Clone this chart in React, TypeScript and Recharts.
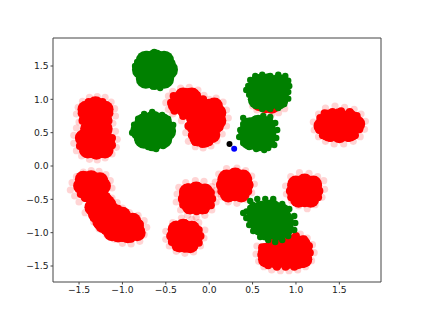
import { ScatterChart, Scatter, XAxis, YAxis, ReferenceLine } from 'recharts';

const xTicks = [-1.5, -1.0, -0.5, 0, 0.5, 1.0, 1.5];
const yTicks = [-1.5, -1.0, -0.5, 0, 0.5, 1.0, 1.5];
const xRange = [-1.8, 1.98];
const yRange = [-1.74, 1.92];

// dense middle of the red clusters
const redCore = [
  [-1.31,.82],[-1.2,.85],[-1.42,.85],[-1.31,.92],[-1.22,.72],[-1.4,.72],[-1.31,.68],
  [-1.3,.56],[-1.21,.56],[-1.39,.56],
  [-1.3,.33],[-1.18,.34],[-1.42,.34],[-1.3,.43],[-1.3,.22],[-1.4,.24],[-1.2,.24],[-1.45,.42],
  [-1.35,-.3],[-1.47,-.3],[-1.23,-.3],[-1.36,-.19],[-1.26,-.22],[-1.45,-.2],[-1.4,-.42],[-1.28,-.42],
  [-1.3,-.52],[-1.22,-.5],[-1.34,-.62],[-1.18,-.56],
  [-1.24,-.62],[-1.3,-.72],[-1.2,-.72],[-1.13,-.66],[-1.25,-.83],[-1.14,-.82],[-1.05,-.77],[-1.15,-.93],
  [-1.22,-.88],[-1.12,-1.0],[-1.0,-.74],[-.88,-.83],
  [-1.04,-.9],[-.95,-.84],[-1.05,-1.02],[-.93,-.96],[-.85,-.9],[-.94,-1.03],[-.83,-1.0],
  [-.28,-1.05],[-.39,-1.05],[-.17,-1.05],[-.3,-.92],[-.2,-.95],[-.38,-.95],[-.34,-1.17],[-.22,-1.18],
  [-.145,-.49],[-.26,-.49],[-.03,-.49],[-.15,-.36],[-.05,-.39],[-.25,-.39],[-.22,-.6],[-.08,-.6],
  [.295,-.285],[.18,-.285],[.41,-.285],[.3,-.15],[.2,-.18],[.39,-.18],[.22,-.42],[.37,-.42],
  [1.1,-.375],[.99,-.375],[1.21,-.375],[1.1,-.24],[1.0,-.27],[1.2,-.27],[1.03,-.5],[1.17,-.5],
  [.66,-1.28],[.66,-1.4],[.78,-1.28],[.78,-1.42],[.9,-1.28],[.9,-1.42],[1.02,-1.28],[1.02,-1.42],
  [1.09,-1.28],[1.09,-1.4],[.97,-1.15],[1.07,-1.17],[.75,-1.17],[.85,-1.15],
  [1.3,.6],[1.42,.6],[1.54,.6],[1.66,.6],[1.38,.72],[1.5,.74],[1.62,.72],[1.38,.49],[1.5,.47],[1.62,.49],[1.7,.63],
  [.65,.92],[.72,.91],[.58,.95],
  [-.29,.95],[-.38,.92],[-.3,1.05],[-.2,1.05],[-.17,.95],[-.28,.85],[-.2,.8],
  [-.06,.66],[-.17,.6],[-.17,.72],[.04,.72],[.06,.6],[-.05,.8],[.1,.8],[.1,.68],[.02,.48],[-.08,.5],
  [-.05,.4],[-.13,.42],[.03,.47],[.06,.9],[0,.88],
];

// solid points just inside the outline of the red clusters
const redRim = [
  [-1.47,.79],[-1.45,.88],[-1.39,.96],[-1.31,.97],[-1.23,.96],[-1.17,.88],[-1.15,.79],[-1.16,.68],[-1.46,.68],
  [-1.49,.42],[-1.49,.3],[-1.45,.22],[-1.38,.18],[-1.3,.17],[-1.22,.18],[-1.16,.22],[-1.12,.31],[-1.12,.42],[-1.17,.5],
  [-1.51,-.31],[-1.49,-.22],[-1.43,-.17],[-1.35,-.14],[-1.27,-.17],[-1.21,-.22],[-1.19,-.31],[-1.21,-.42],[-1.48,-.42],[-1.43,-.48],
  [-1.32,-.62],[-1.33,-.78],[-1.28,-.88],[-1.2,-.97],[-1.1,-1.03],[-1.0,-1.08],[-.9,-1.09],[-.82,-1.05],[-.79,-.96],[-.8,-.87],[-.88,-.78],[-.97,-.72],[-1.05,-.64],[-1.12,-.56],
  [-.45,-1.05],[-.43,-.96],[-.38,-.88],[-.28,-.86],[-.18,-.89],[-.12,-.96],[-.1,-1.05],[-.12,-1.15],[-.18,-1.22],[-.28,-1.24],[-.38,-1.22],[-.43,-1.14],
  [-.315,-.49],[-.3,-.4],[-.24,-.32],[-.145,-.3],[-.05,-.33],[.02,-.4],[.035,-.49],[.02,-.59],[-.05,-.66],[-.145,-.68],[-.24,-.66],[-.3,-.58],
  [.125,-.285],[.14,-.2],[.2,-.12],[.295,-.1],[.39,-.12],[.45,-.2],[.465,-.285],[.45,-.38],[.39,-.45],[.295,-.47],[.2,-.45],[.14,-.38],
  [.93,-.375],[.945,-.29],[1.0,-.21],[1.1,-.19],[1.2,-.21],[1.255,-.29],[1.27,-.375],[1.255,-.47],[1.2,-.54],[1.1,-.56],[1.0,-.54],[.945,-.47],
  [.61,-1.22],[.6,-1.33],[.62,-1.42],[.68,-1.49],[.78,-1.51],[.88,-1.51],[.98,-1.51],[1.08,-1.47],[1.14,-1.4],[1.16,-1.3],[1.15,-1.2],[1.09,-1.1],[1.0,-1.05],
  [1.26,.62],[1.28,.72],[1.33,.79],[1.42,.81],[1.52,.82],[1.62,.81],[1.7,.75],[1.74,.65],[1.73,.55],[1.68,.46],[1.6,.42],[1.5,.42],[1.4,.42],[1.31,.46],[1.27,.54],
  [-.44,.95],[-.41,1.05],[-.33,1.1],[-.24,1.11],[-.14,1.06],[-.07,1.0],[.02,.94],[.1,.92],[.14,.82],[.14,.7],[.12,.58],[.07,.45],[0,.36],[-.08,.33],[-.16,.36],[-.2,.46],[-.24,.6],[-.3,.75],[-.4,.83],
];

// pale outer points of the red clusters
const redEdge = [
  [-1.53,.78],[-1.51,.88],[-1.46,.97],[-1.38,1.03],[-1.29,1.04],[-1.2,1.03],[-1.13,.96],[-1.09,.86],[-1.08,.75],[-1.11,.64],[-1.5,.66],[-1.53,.57],
  [-1.56,.46],[-1.56,.34],[-1.53,.23],[-1.47,.15],[-1.38,.1],[-1.29,.09],[-1.2,.12],[-1.12,.18],[-1.07,.28],[-1.06,.4],[-1.08,.52],[-1.34,.5],
  [-1.6,-.36],[-1.58,-.25],[-1.53,-.16],[-1.45,-.09],[-1.36,-.07],[-1.27,-.08],[-1.19,-.13],[-1.14,-.22],[-1.12,-.33],[-1.55,-.45],[-1.5,-.54],
  [-1.36,-.7],[-1.33,-.84],[-1.27,-.94],[-1.18,-1.03],[-1.09,-1.1],[-1.0,-1.16],[-.9,-1.17],[-.8,-1.13],[-.75,-1.03],[-.72,-.92],[-.75,-.82],[-.82,-.74],[-.92,-.7],[-1.0,-.63],[-1.06,-.55],[-1.12,-.48],[-1.43,-.7],
  [-.5,-.98],[-.5,-1.1],[-.46,-1.2],[-.38,-1.28],[-.28,-1.31],[-.18,-1.29],[-.1,-1.2],[-.06,-1.08],[-.05,-.96],[-.12,-.85],[-.2,-.8],[-.32,-.78],[-.42,-.85],
  [-.37,-.42],[-.38,-.54],[-.33,-.66],[-.25,-.74],[-.15,-.77],[-.05,-.74],[.03,-.66],[.08,-.54],[.09,-.42],[.03,-.31],[-.06,-.23],[-.16,-.22],[-.27,-.25],[-.35,-.32],
  [.07,-.24],[.08,-.36],[.14,-.46],[.22,-.54],[.32,-.56],[.42,-.5],[.49,-.4],[.52,-.27],[.49,-.15],[.42,-.07],[.32,-.03],[.2,-.04],[.11,-.12],
  [.88,-.3],[.89,-.42],[.95,-.52],[1.03,-.6],[1.13,-.64],[1.22,-.58],[1.3,-.47],[1.33,-.35],[1.32,-.22],[1.25,-.16],[1.15,-.11],[1.04,-.1],[.94,-.16],
  [.55,-1.2],[.54,-1.32],[.57,-1.43],[.63,-1.51],[.72,-1.56],[.82,-1.57],[.92,-1.57],[1.02,-1.56],[1.11,-1.51],[1.18,-1.42],[1.21,-1.3],[1.19,-1.18],[1.13,-1.08],[1.05,-1.02],[.95,-1.0],
  [1.2,.66],[1.21,.54],[1.26,.44],[1.34,.37],[1.44,.33],[1.55,.33],[1.66,.37],[1.74,.44],[1.79,.55],[1.8,.67],[1.75,.78],[1.67,.85],[1.56,.88],[1.45,.9],[1.34,.87],[1.26,.78],
  [.5,.9],[.55,.84],[.63,.8],[.72,.78],[.8,.8],[.87,.86],
  [-.5,.95],[-.47,1.05],[-.42,1.12],[-.33,1.17],[-.23,1.18],[-.13,1.14],[-.06,1.06],[0,1.0],[.08,1.02],[.16,.96],[.2,.84],[.22,.72],[.2,.6],[.15,.48],[.09,.38],[.02,.3],[-.07,.27],[-.16,.29],[-.24,.37],[-.27,.5],[-.32,.68],[-.42,.78],[-.47,.85],
];

// middle of the green clusters
const greenCore = [
  [-.625,1.445],[-.475,1.445],[-.52,1.58],[-.625,1.6],[-.73,1.58],[-.775,1.445],[-.73,1.31],[-.625,1.29],[-.52,1.31],
  [-.646,.525],[-.496,.525],[-.54,.64],[-.646,.68],[-.75,.64],[-.796,.525],[-.75,.41],[-.646,.37],[-.54,.41],
  [.68,1.11],[.81,1.11],[.8,1.23],[.68,1.24],[.57,1.23],[.55,1.14],[.56,1.0],[.68,.98],[.8,1.0],
  [.565,.495],[.66,.495],[.65,.6],[.565,.62],[.47,.58],[.45,.495],[.47,.39],[.565,.37],[.65,.39],
  [.715,-.8],[.86,-.82],[.82,-.7],[.72,-.65],[.6,-.67],[.54,-.76],[.59,-.9],[.66,-.97],[.78,-.97],[.86,-.93],
];

// bumpy rim of the green clusters
const greenEdge = [
  [-.634,1.71],[-.715,1.68],[-.784,1.62],[-.83,1.56],[-.854,1.5],[-.83,1.43],[-.807,1.35],[-.784,1.28],[-.727,1.22],[-.646,1.19],[-.565,1.17],[-.496,1.22],[-.45,1.29],[-.427,1.37],[-.415,1.46],[-.427,1.55],[-.461,1.62],[-.519,1.67],[-.577,1.68],
  [-.657,.81],[-.75,.78],[-.819,.71],[-.865,.62],[-.888,.5],[-.83,.41],[-.784,.33],[-.704,.285],[-.611,.255],[-.531,.3],[-.473,.375],[-.438,.465],[-.415,.615],[-.473,.705],[-.542,.765],
  [.427,1.14],[.45,1.2],[.473,1.29],[.531,1.35],[.611,1.37],[.704,1.35],[.796,1.37],[.877,1.35],[.911,1.28],[.923,1.2],[.911,1.11],[.911,1.01],[.865,.93],[.796,.87],[.704,.855],[.611,.855],[.542,.915],[.496,.99],[.461,1.07],
  [.392,.72],[.42,.67],[.45,.66],[.531,.705],[.623,.75],[.704,.735],[.761,.645],[.784,.54],[.773,.42],[.75,.315],[.68,.27],[.634,.24],[.542,.255],[.461,.285],[.392,.345],[.346,.435],[.358,.54],[.392,.63],
  [.392,-.705],[.43,-.68],[.473,-.63],[.473,-.525],[.5,-.58],[.554,-.495],[.646,-.495],[.738,-.495],[.842,-.57],[.923,-.645],[.98,-.75],[.992,-.855],[.98,-.96],[.911,-1.05],[.842,-1.11],[.761,-1.14],[.68,-1.11],[.588,-1.065],[.507,-.975],[.461,-.885],[.427,-.78],
];

const blackPoint = [[0.234, 0.33]];
const bluePoint = [[0.288, 0.26]];

const toRows = (pairs: number[][]) => pairs.map(([x, y]) => ({ x, y }));

const dot = (r: number) => (props: any) => (
  <circle cx={props.cx} cy={props.cy} r={r} fill={props.fill} fillOpacity={props.fillOpacity} />
);

const axisLine = { stroke: '#444', strokeWidth: 1 };
const tickText = { fontFamily: 'DejaVu Sans', fontSize: 9.2, fill: '#222' };
const tickFormat = (v: number) => v.toFixed(1).replace('-', '\u2212');

export default function App() {
  return (
    <div style={{ position: 'absolute', left: 0, top: 0 }}>
      <ScatterChart width={423} height={317} margin={{ left: 13, right: 42, top: 38, bottom: 5 }}>
        <XAxis
          type="number"
          dataKey="x"
          domain={xRange}
          ticks={xTicks}
          tickFormatter={tickFormat}
          tick={tickText}
          tickSize={2.5}
          tickLine={axisLine}
          axisLine={axisLine}
          height={30}
          allowDataOverflow
        />
        <YAxis
          type="number"
          dataKey="y"
          domain={yRange}
          ticks={yTicks}
          tickFormatter={tickFormat}
          tick={tickText}
          tickSize={2.5}
          tickLine={axisLine}
          axisLine={axisLine}
          width={40}
          allowDataOverflow
        />
        <ReferenceLine x={xRange[1]} stroke="#444" strokeWidth={1} />
        <ReferenceLine y={yRange[1]} stroke="#444" strokeWidth={1} />
        <Scatter data={toRows(redEdge)} fill="#ff0000" fillOpacity={0.17} shape={dot(3.6)} isAnimationActive={false} />
        <Scatter data={toRows(redRim)} fill="#ff0000" shape={dot(4)} isAnimationActive={false} />
        <Scatter data={toRows(redCore)} fill="#ff0000" shape={dot(8.5)} isAnimationActive={false} />
        <Scatter data={toRows(greenCore)} fill="#008000" shape={dot(10)} isAnimationActive={false} />
        <Scatter data={toRows(greenEdge)} fill="#008000" shape={dot(3.2)} isAnimationActive={false} />
        <Scatter data={toRows(blackPoint)} fill="#000000" shape={dot(3)} isAnimationActive={false} />
        <Scatter data={toRows(bluePoint)} fill="#0000ff" shape={dot(3)} isAnimationActive={false} />
      </ScatterChart>
    </div>
  );
}
